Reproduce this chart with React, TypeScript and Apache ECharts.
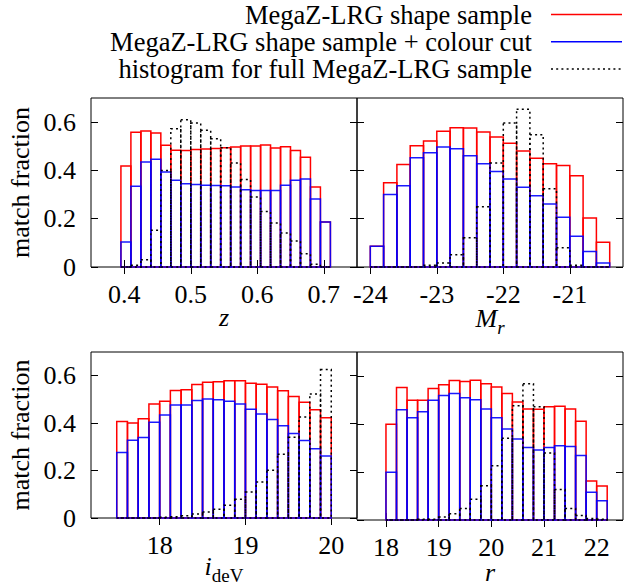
import React, { useEffect, useRef } from 'react';
import * as echarts from 'echarts';

// Histogram bins per panel: first lower edge and bin width
const zBinStart = 0.395;
const zBinWidth = 0.015;
const magBinStart = -24.0;
const magBinWidth = 0.2;
const iBinStart = 17.5;
const iBinWidth = 0.125;
const rBinStart = 18.0;
const rBinWidth = 0.2;

// Redshift z
const zShape = [0.418, 0.558, 0.563, 0.555, 0.504, 0.484, 0.483, 0.487, 0.489, 0.491, 0.494, 0.497, 0.501, 0.501, 0.505, 0.493, 0.498, 0.483, 0.455, 0.331, 0.186];
const zColour = [0.104, 0.334, 0.435, 0.446, 0.393, 0.359, 0.345, 0.342, 0.339, 0.338, 0.337, 0.331, 0.320, 0.317, 0.317, 0.317, 0.339, 0.359, 0.365, 0.282, 0.186];
const zFull = [0, 0.007, 0.030, 0.152, 0.400, 0.573, 0.610, 0.596, 0.566, 0.531, 0.494, 0.431, 0.362, 0.290, 0.230, 0.182, 0.141, 0.108, 0.055, 0.011, 0];

// Absolute magnitude M_r
const magShape = [0.086, 0.349, 0.425, 0.502, 0.522, 0.562, 0.577, 0.576, 0.559, 0.538, 0.513, 0.480, 0.450, 0.428, 0.420, 0.378, 0.203, 0.102];
const magColour = [0.086, 0.300, 0.337, 0.453, 0.473, 0.497, 0.490, 0.461, 0.428, 0.396, 0.364, 0.330, 0.295, 0.261, 0.206, 0.127, 0.064, 0.017];
const magFull = [0, 0, 0, 0, 0.007, 0.017, 0.051, 0.121, 0.250, 0.431, 0.596, 0.653, 0.548, 0.324, 0.080, 0.007, 0, 0];

// de Vaucouleurs i magnitude
const iShape = [0.407, 0.401, 0.419, 0.481, 0.492, 0.538, 0.541, 0.563, 0.572, 0.575, 0.579, 0.579, 0.568, 0.564, 0.552, 0.537, 0.512, 0.488, 0.457, 0.423];
const iColour = [0.276, 0.328, 0.339, 0.404, 0.434, 0.477, 0.476, 0.495, 0.502, 0.499, 0.492, 0.481, 0.459, 0.439, 0.415, 0.389, 0.356, 0.327, 0.292, 0.261];
const iFull = [0, 0, 0, 0, 0.003, 0.005, 0.010, 0.017, 0.025, 0.037, 0.054, 0.079, 0.110, 0.152, 0.201, 0.269, 0.341, 0.426, 0.523, 0.626];

// r magnitude
const rShape = [0.399, 0.552, 0.499, 0.499, 0.548, 0.564, 0.581, 0.577, 0.582, 0.568, 0.554, 0.527, 0.492, 0.463, 0.461, 0.472, 0.474, 0.462, 0.411, 0.163, 0.142];
const rColour = [0.199, 0.459, 0.426, 0.451, 0.499, 0.519, 0.527, 0.509, 0.501, 0.463, 0.426, 0.379, 0.338, 0.302, 0.292, 0.302, 0.309, 0.306, 0.269, 0.116, 0.080];
const rFull = [0, 0, 0, 0.003, 0.003, 0.012, 0.026, 0.048, 0.086, 0.143, 0.226, 0.341, 0.476, 0.568, 0.472, 0.279, 0.127, 0.048, 0.019, 0.006, 0.003];

// Axis ticks
const zTicks = [0.4, 0.5, 0.6, 0.7];
const magTicks = [-24, -23, -22, -21];
const iTicks = [18, 19, 20];
const rTicks = [18, 19, 20, 21, 22];
const fracTicks = [0, 0.2, 0.4, 0.6];

const legendNames = [
  'MegaZ-LRG shape sample',
  'MegaZ-LRG shape sample + colour cut',
  'histogram for full MegaZ-LRG sample',
];

const FONT = 'Liberation Serif';
const RED = '#ff0000';
const BLUE = '#0000ff';
const BLACK = '#000000';
const DOTS = [2, 3.2];

function toBins(start: number, width: number, values: number[]) {
  return values.map((v, i) => [start + i * width, start + (i + 1) * width, v]);
}

function histSeries(gridIdx: number, name: string, data: number[][], color: string, dash: number[] | null, z: number) {
  return {
    type: 'custom',
    name,
    xAxisIndex: gridIdx * 2,
    yAxisIndex: gridIdx * 2,
    z,
    clip: false,
    encode: { x: [0, 1], y: 2 },
    data,
    renderItem: (_params: any, api: any) => {
      const x0 = api.value(0);
      const x1 = api.value(1);
      const v = api.value(2);
      const p0 = api.coord([x0, 0]);
      const p1 = api.coord([x1, v]);
      return {
        type: 'rect',
        shape: { x: p0[0], y: p1[1], width: p1[0] - p0[0], height: p0[1] - p1[1] },
        style: {
          fill: 'none',
          stroke: color,
          lineWidth: 1.5,
          lineDash: dash || undefined,
          opacity: color === BLUE ? 0.9 : 1,
        },
      };
    },
  };
}

const tick = (values: number[]) => ({
  show: true,
  inside: true,
  length: 7,
  customValues: values,
  lineStyle: { color: BLACK, width: 1 },
});

const tickLabel = (show: boolean, values: number[], margin: number) => ({
  show,
  customValues: values,
  margin,
  color: BLACK,
  fontFamily: FONT,
  fontSize: 26,
  lineHeight: 20,
});

export default function App() {
  const ref = useRef<HTMLDivElement>(null);

  useEffect(() => {
    if (!ref.current) return;
    const chart = echarts.init(ref.current, undefined, { renderer: 'svg' });

    const panels = [
      { left: 91, top: 98, min: 0.35, max: 0.75, ticks: zTicks, name: 'z', gap: 40, yLabels: true,
        shape: toBins(zBinStart, zBinWidth, zShape), colour: toBins(zBinStart, zBinWidth, zColour), full: toBins(zBinStart, zBinWidth, zFull) },
      { left: 357, top: 98, min: -24.2, max: -20.2, ticks: magTicks, name: '{m|M}{s|r}', gap: 33, yLabels: false,
        shape: toBins(magBinStart, magBinWidth, magShape), colour: toBins(magBinStart, magBinWidth, magColour), full: toBins(magBinStart, magBinWidth, magFull) },
      { left: 91, top: 352, min: 17.2, max: 20.3, ticks: iTicks, name: '{m|i}{d|deV}', gap: 30, yLabels: true,
        shape: toBins(iBinStart, iBinWidth, iShape), colour: toBins(iBinStart, iBinWidth, iColour), full: toBins(iBinStart, iBinWidth, iFull) },
      { left: 357, top: 352, min: 17.45, max: 22.5, ticks: rTicks, name: 'r', gap: 42, yLabels: false,
        shape: toBins(rBinStart, rBinWidth, rShape), colour: toBins(rBinStart, rBinWidth, rColour), full: toBins(rBinStart, rBinWidth, rFull) },
    ];

    const grid: any[] = [];
    const xAxis: any[] = [];
    const yAxis: any[] = [];
    const series: any[] = [];

    panels.forEach((p, g) => {
      const plain = p.name === 'z' || p.name === 'r';
      grid.push({
        left: p.left, top: p.top, width: 266, height: 169,
        show: true, borderColor: BLACK, borderWidth: 1, backgroundColor: 'transparent',
      });
      xAxis.push({
        type: 'value', gridIndex: g, position: 'bottom', min: p.min, max: p.max,
        axisLine: { show: false }, splitLine: { show: false },
        axisTick: tick(p.ticks),
        axisLabel: tickLabel(true, p.ticks, 17),
        name: p.name, nameLocation: 'middle', nameGap: p.gap, nameMoveOverlap: false,
        nameTextStyle: {
          color: BLACK, fontFamily: FONT, fontSize: 26, fontStyle: 'italic',
          lineHeight: plain ? 20 : undefined,
          rich: {
            m: { fontFamily: FONT, fontSize: 26, fontStyle: 'italic', color: BLACK },
            s: { fontFamily: FONT, fontSize: 19, fontStyle: 'italic', color: BLACK, padding: [18, 0, 0, 0] },
            d: { fontFamily: FONT, fontSize: 19, fontStyle: 'normal', color: BLACK, padding: [18, 0, 0, 0] },
          },
        },
      });
      xAxis.push({
        type: 'value', gridIndex: g, position: 'top', min: p.min, max: p.max,
        axisLine: { show: false }, splitLine: { show: false },
        axisTick: tick(p.ticks), axisLabel: { show: false },
      });
      yAxis.push({
        type: 'value', gridIndex: g, position: 'left', min: 0, max: 0.7,
        axisLine: { show: false }, splitLine: { show: false },
        axisTick: tick(fracTicks),
        axisLabel: tickLabel(p.yLabels, fracTicks, 15),
        name: p.yLabels ? 'match fraction' : '', nameLocation: 'middle', nameGap: 58, nameMoveOverlap: false,
        nameTextStyle: { color: BLACK, fontFamily: FONT, fontSize: 26 },
      });
      yAxis.push({
        type: 'value', gridIndex: g, position: 'right', min: 0, max: 0.7,
        axisLine: { show: false }, splitLine: { show: false },
        axisTick: tick(fracTicks), axisLabel: { show: false },
      });

      series.push(histSeries(g, legendNames[0], p.shape, RED, null, 2));
      series.push(histSeries(g, legendNames[1], p.colour, BLUE, null, 3));
      series.push(histSeries(g, legendNames[2], p.full, BLACK, DOTS, 4));
    });

    // Key in the top right corner: label right-aligned, line sample to its right
    const keyStyles = [
      { stroke: RED, lineDash: null },
      { stroke: BLUE, lineDash: null },
      { stroke: BLACK, lineDash: DOTS },
    ];
    const graphic: any[] = [];
    legendNames.forEach((label, k) => {
      const y = 14.5 + k * 27.3;
      graphic.push({
        type: 'text', x: 532, y,
        style: { text: label, fill: BLACK, font: `26.5px ${FONT}`, textAlign: 'right', textVerticalAlign: 'middle' },
      });
      graphic.push({
        type: 'line', shape: { x1: 551, y1: y, x2: 622, y2: y },
        style: { stroke: keyStyles[k].stroke, lineWidth: 1.5, lineDash: keyStyles[k].lineDash || undefined },
      });
    });

    chart.setOption({
      animation: false,
      backgroundColor: '#ffffff',
      textStyle: { fontFamily: FONT },
      grid, xAxis, yAxis, series, graphic,
    });

    return () => chart.dispose();
  }, []);

  return <div ref={ref} style={{ position: 'fixed', left: 0, top: 0, width: 625, height: 586 }} />;
}
